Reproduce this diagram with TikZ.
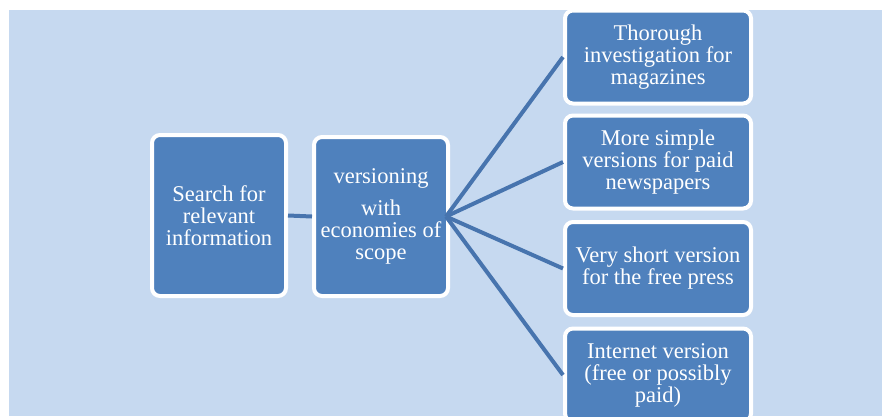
\documentclass[tikz,border=0pt]{standalone}
\usepackage{fontspec}
\setmainfont{Liberation Serif}
\usepackage{xcolor}
\usepackage{tikz}
\usetikzlibrary{positioning}
\definecolor{boxblue}{HTML}{4F81BD}
\definecolor{lineblue}{HTML}{4774AE}
\definecolor{pageblue}{HTML}{C6D9F0}

\begin{document}
\begin{tikzpicture}[
    x=1pt, y=1pt,
    font=\fontsize{22.5}{22}\selectfont,
    block/.style={draw=white, line width=4pt, rounded corners=8pt, fill=boxblue,
        text=white, align=center, inner sep=1pt,
        minimum width=#1},
    link/.style={lineblue, line width=4pt},
]
\useasboundingbox (0,0) rectangle (882,-416);
\fill[pageblue] (9,-10) rectangle (882,-416);
\node[block=134pt, minimum height=161pt] (search) at (219,-215.5)
    {Search for\\relevant\\information};
\node[block=134pt, minimum height=159pt] (vers) at (381,-216.5)
    {versioning\\[10pt]with\\economies of\\scope};
\node[block=186pt, minimum height=93pt] (mag)  at (658,-57)    {Thorough\\investigation for\\magazines};
\node[block=186pt, minimum height=93pt] (paid) at (658,-162)   {More simple\\versions for paid\\newspapers};
\node[block=186pt, minimum height=93pt] (free) at (658,-268.5) {Very short version\\for the free press};
\node[block=186pt, minimum height=93pt] (web)  at (658,-375)   {Internet version\\(free or possibly\\paid)};
%% Connectors
\draw[link] (search.east) -- (vers.west);
\draw[link] ([xshift=-4pt]vers.east) -- (mag.west);
\draw[link] ([xshift=-4pt]vers.east) -- (paid.west);
\draw[link] ([xshift=-4pt]vers.east) -- (free.west);
\draw[link] ([xshift=-4pt]vers.east) -- (web.west);
\end{tikzpicture}
\end{document}
